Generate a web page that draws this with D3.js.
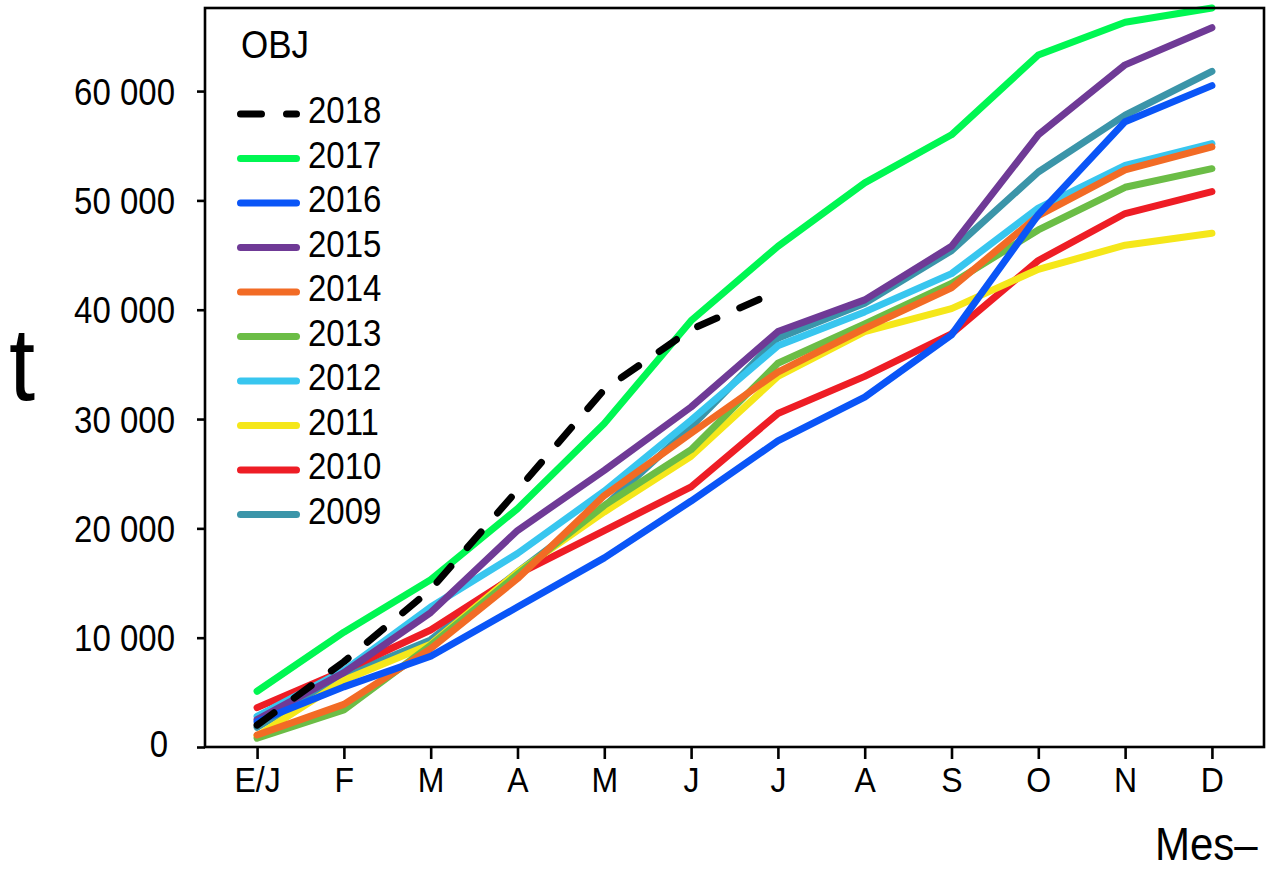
<!DOCTYPE html>
<html>
<head>
<meta charset="utf-8">
<script src="https://cdn.jsdelivr.net/npm/d3@7"></script>
<style>
  html, body { margin: 0; padding: 0; background: #fff; }
  svg { display: block; }
  text { font-family: "Liberation Sans", Arial, sans-serif; fill: #000; }
</style>
</head>
<body>
<svg id="chart" width="1266" height="871"></svg>
<script>
// ---- data ----
const months = ["E/J", "F", "M", "A", "M", "J", "J", "A", "S", "O", "N", "D"];
const yTicks = [0, 10000, 20000, 30000, 40000, 50000, 60000];
const years = ["2018", "2017", "2016", "2015", "2014", "2013", "2012", "2011", "2010", "2009"];
const colors = ["#000000", "#00f752", "#0a55f7", "#6f3a96", "#f26b25", "#6bbd46", "#38c6ef", "#f5e71a", "#ee1d25", "#3b95a9"];

const v2018 = [2000, 7800, 14400, 23500, 32700, 38200, 41700];
const v2017 = [5100, 10500, 15300, 21800, 29600, 39000, 45800, 51600, 56000, 63300, 66300, 67600];
const v2016 = [2300, 5500, 8300, 12800, 17300, 22500, 28000, 32000, 37700, 48700, 57200, 60500];
const v2015 = [2500, 6800, 12300, 19800, 25300, 31100, 38000, 40900, 45800, 56000, 62400, 65800];
const v2014 = [1100, 3900, 9000, 15400, 23000, 28700, 34300, 38300, 42000, 48600, 52800, 54900];
const v2013 = [800, 3400, 9300, 15800, 22100, 27200, 35100, 38700, 42400, 47300, 51200, 52900];
const v2012 = [2800, 7000, 12800, 17700, 23400, 29900, 36700, 39800, 43300, 49300, 53200, 55200];
const v2011 = [1000, 6100, 9400, 16000, 21500, 26600, 33900, 38000, 40100, 43700, 45900, 47000];
const v2010 = [3600, 7000, 10700, 15800, 19800, 23800, 30500, 33900, 37800, 44500, 48800, 50800];
const v2009 = [1800, 6500, 9800, 16000, 22000, 29300, 37400, 40600, 45400, 52600, 57800, 61800];

const values = [v2018, v2017, v2016, v2015, v2014, v2013, v2012, v2011, v2010, v2009];
const series = years.map((y, i) => ({ year: y, values: values[i], color: colors[i], dashed: y === "2018" }));

// ---- layout ----
const svg = d3.select("#chart");
const L = 205, R = 1264, T = 8, B = 747;
const SY = 1.1; // vertical stretch of the reference's text

const x = d3.scalePoint().domain(d3.range(months.length)).range([L, R]).padding(0.6);
const y = d3.scaleLinear().domain([0, 67600]).range([B, T]);

const fmt = v => d3.format(",")(v).replace(/,/g, " ");

// y axis
const gy = svg.append("g").attr("transform", `translate(${L},0)`)
  .call(d3.axisLeft(y).tickValues(yTicks).tickSize(8).tickPadding(22).tickFormat(fmt));
gy.select(".domain").remove();
gy.selectAll(".tick line").attr("stroke", "#000").attr("stroke-width", 2.6);
gy.selectAll(".tick text")
  .attr("dy", null).attr("y", 13 / SY)
  .attr("transform", `scale(1,${SY})`)
  .style("font-size", "33px");
gy.selectAll(".tick").filter(d => d === 0).select("text")
  .attr("x", -37).attr("y", 9.5 / SY);

// x axis
const gx = svg.append("g").attr("transform", `translate(0,${B})`)
  .call(d3.axisBottom(x).tickSize(12).tickFormat(i => months[i]));
gx.select(".domain").remove();
gx.selectAll(".tick line").attr("stroke", "#000").attr("stroke-width", 2.6);
gx.selectAll(".tick text")
  .attr("dy", null).attr("y", 45.5 / SY)
  .attr("transform", `scale(1,${SY})`)
  .style("font-size", "32px");

// lines (oldest first, newest on top)
const line = d3.line().x((d, i) => x(i)).y(d => y(d));
const drawOrder = series.slice().reverse();
svg.append("g").selectAll("path")
  .data(drawOrder)
  .join("path")
  .attr("d", d => line(d.values))
  .attr("fill", "none")
  .attr("stroke", d => d.color)
  .attr("stroke-width", 7)
  .attr("stroke-linecap", "round")
  .attr("stroke-linejoin", "round")
  .attr("stroke-dasharray", d => d.dashed ? "21,25" : null);

// frame
svg.append("rect")
  .attr("x", L).attr("y", T).attr("width", R - L).attr("height", B - T)
  .attr("fill", "none").attr("stroke", "#000").attr("stroke-width", 2.6);

// legend
const lg = svg.append("g");
lg.append("text").attr("transform", `translate(241,58) scale(1,${SY})`)
  .style("font-size", "35px").text("OBJ");
const row = lg.selectAll("g.row").data(series).join("g")
  .attr("class", "row")
  .attr("transform", (d, i) => `translate(0,${114 + i * 44.5})`);
row.append("line")
  .attr("x1", 240.5).attr("x2", 296.5).attr("y1", 0).attr("y2", 0)
  .attr("stroke", d => d.color).attr("stroke-width", 7)
  .attr("stroke-linecap", "round")
  .attr("stroke-dasharray", d => d.dashed ? "21,25" : null);
row.append("text")
  .attr("transform", `translate(308,9) scale(1,${SY})`)
  .style("font-size", "33px")
  .text(d => d.year);

// axis titles
svg.append("text").attr("transform", `translate(9,400) scale(1,${SY})`)
  .style("font-size", "94px").text("t");
svg.append("text").attr("transform", `translate(1155,860) scale(1,${SY})`)
  .style("font-size", "42px").text("Mes–");
</script>
</body>
</html>
